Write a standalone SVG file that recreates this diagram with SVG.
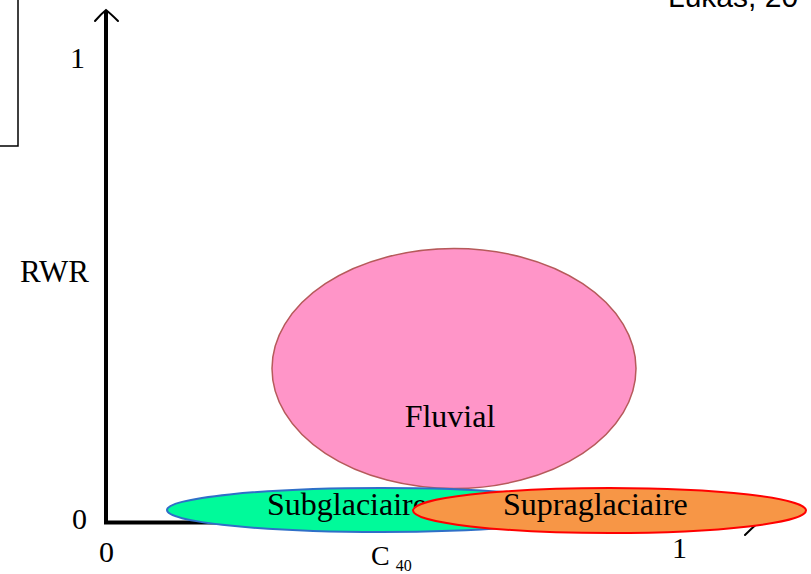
<svg xmlns="http://www.w3.org/2000/svg" width="811" height="574" viewBox="0 0 811 574">
<defs>
<style>
.lbl{font-family:"Liberation Serif","Times New Roman",serif;fill:#000;}
.axis{stroke:#000;fill:none;stroke-width:4;}
.head{stroke:#000;fill:none;stroke-width:2;stroke-linecap:round;}
</style>
</defs>
<rect width="811" height="574" fill="#fff"/>
<path d="M-2,146 H18 V-2" fill="none" stroke="#000" stroke-width="1.5"/>
<text x="668" y="7" font-family="'Liberation Sans',Arial,sans-serif" font-size="30" fill="#000">Lukas, 20</text>
<g id="connectors">
<path class="axis" d="M106,522.5 V11"/>
<path class="head" d="M95,21 Q101,14 106,10 Q111,14 118,21"/>
<path class="axis" d="M104,522.5 H758"/>
<path class="head" d="M745,535 Q752,528 759,522 Q752,516 745,509"/>
</g>
<g id="axis-labels">
<text class="lbl" x="70" y="68" font-size="30">1</text>
<text class="lbl" x="20" y="282" font-size="31">RWR</text>
<text class="lbl" x="72" y="529" font-size="30">0</text>
<text class="lbl" x="99" y="562" font-size="30">0</text>
<text class="lbl" x="672" y="558" font-size="30">1</text>
<text class="lbl" x="371" y="565" font-size="28">C<tspan font-size="16" dx="6" dy="6">40</tspan></text>
</g>
<g id="fluvial">
<ellipse cx="454" cy="368.5" rx="182" ry="120" fill="#FF95C8" stroke="#B65A5A" stroke-width="1.5"/>
<text class="lbl" x="450" y="427" font-size="32" text-anchor="middle">Fluvial</text>
</g>
<g id="subglaciaire">
<ellipse cx="381" cy="510" rx="214" ry="22" fill="#00FA9A" stroke="#2F6FC8" stroke-width="2"/>
<text class="lbl" x="267" y="515" font-size="32">Subglaciaire</text>
</g>
<g id="supraglaciaire">
<ellipse cx="609.5" cy="510.5" rx="196.5" ry="22.5" fill="#F79646" stroke="#FF0000" stroke-width="2"/>
<text class="lbl" x="503" y="515" font-size="32">Supraglaciaire</text>
</g>
</svg>
